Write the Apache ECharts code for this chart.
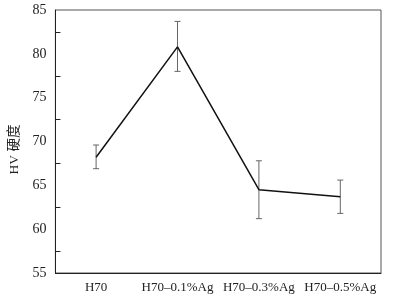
<!DOCTYPE html>
<html>
<head>
<meta charset="utf-8">
<script src="https://cdn.jsdelivr.net/npm/echarts@6/dist/echarts.min.js"></script>
<style>
  html, body { margin: 0; padding: 0; background: #fff; }
  #chart { width: 400px; height: 300px; }
</style>
</head>
<body>
<div id="chart"></div>
<script>
const categories = ['H70', 'H70\u20130.1%Ag', 'H70\u20130.3%Ag', 'H70\u20130.5%Ag']
const hardness = [68.2, 80.8, 64.5, 63.7]
const errLow = [66.9, 78.0, 61.2, 61.8]
const errHigh = [69.6, 83.7, 67.8, 65.6]

const chart = echarts.init(document.getElementById('chart'))

const serif = '"Liberation Serif", "DejaVu Serif", serif'

const errorData = categories.map((c, i) => [i, errLow[i], errHigh[i]])

const option = {
  animation: false,
  grid: {
    left: 54,
    right: 19,
    top: 10,
    bottom: 27,
    show: true,
    borderColor: '#555',
    borderWidth: 1
  },
  xAxis: {
    type: 'category',
    data: categories,
    boundaryGap: true,
    axisLine: { lineStyle: { color: '#222', width: 1 } },
    axisTick: { inside: true, alignWithLabel: true, length: 5, lineStyle: { color: '#222' } },
    axisLabel: { interval: 0, color: '#222', fontFamily: serif, fontSize: 13, margin: 8 }
  },
  yAxis: {
    type: 'value',
    min: 55,
    max: 85,
    interval: 5,
    name: 'HV 硬度',
    nameLocation: 'middle',
    nameGap: 30,
    nameTextStyle: {
      color: '#222',
      fontFamily: serif + ', "Noto Sans CJK SC"',
      fontSize: 13.5,
      padding: [0, 16, 0, 0]
    },
    axisLine: { show: true, lineStyle: { color: '#222', width: 1 } },
    axisTick: { inside: true, length: 5, lineStyle: { color: '#222' } },
    minorTick: { show: true, splitNumber: 2, length: 5, lineStyle: { color: '#222' } },
    splitLine: { show: false },
    axisLabel: { color: '#222', fontFamily: serif, fontSize: 14, margin: 9 }
  },
  series: [
    {
      type: 'line',
      data: hardness,
      symbol: 'none',
      lineStyle: { color: '#111', width: 1.5 },
      z: 3
    },
    {
      type: 'custom',
      data: errorData,
      z: 2,
      renderItem: (params, api) => {
        const x = api.value(0)
        const lo = api.coord([x, api.value(1)])
        const hi = api.coord([x, api.value(2)])
        const hw = 3
        const style = { stroke: '#666', lineWidth: 1 }
        return {
          type: 'group',
          children: [
            { type: 'line', shape: { x1: lo[0], y1: lo[1], x2: hi[0], y2: hi[1] }, style },
            { type: 'line', shape: { x1: hi[0] - hw, y1: hi[1], x2: hi[0] + hw, y2: hi[1] }, style },
            { type: 'line', shape: { x1: lo[0] - hw, y1: lo[1], x2: lo[0] + hw, y2: lo[1] }, style }
          ]
        }
      }
    }
  ]
}

chart.setOption(option)
</script>
</body>
</html>
